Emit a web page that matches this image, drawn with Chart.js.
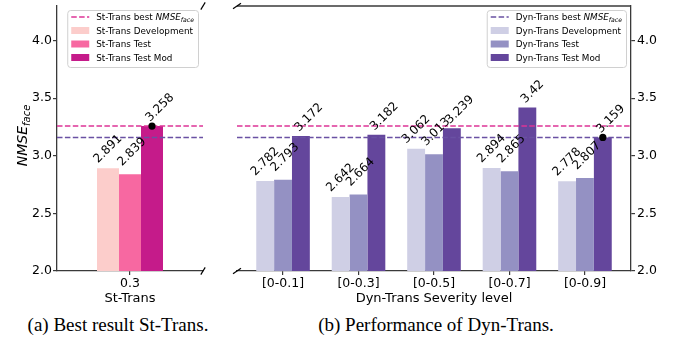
<!DOCTYPE html>
<html>
<head>
<meta charset="utf-8">
<script src="https://cdn.jsdelivr.net/npm/chart.js@4.4.1/dist/chart.umd.min.js"></script>
<style>
  body { margin: 0; background: #fff; width: 686px; height: 342px; position: relative; overflow: hidden; }
  canvas { position: absolute; top: 0; }
  #leftChart { left: 0; }
  #rightChart { left: 215px; }
  .cap { position: absolute; top: 315px; line-height: 20px; font-family: "Liberation Serif", "Times New Roman", serif;
         font-size: 19px; white-space: nowrap; transform: translateX(-50%); color: #000; }
</style>
</head>
<body>
<canvas id="leftChart" width="215" height="310"></canvas>
<canvas id="rightChart" width="471" height="310"></canvas>
<div class="cap" style="left:118px">(a) Best result St-Trans.</div>
<div class="cap" style="left:436px">(b) Performance of Dyn-Trans.</div>
<script>
// values
const stCategories = ["0.3"];
const stDev = [2.891];
const stTest = [2.839];
const stMod = [3.258];

const dynCategories = ["[0-0.1]", "[0-0.3]", "[0-0.5]", "[0-0.7]", "[0-0.9]"];
const dynDev = [2.782, 2.642, 3.062, 2.894, 2.778];
const dynTest = [2.793, 2.664, 3.013, 2.865, 2.807];
const dynMod = [3.172, 3.182, 3.239, 3.42, 3.159];

const stBest = 3.258;
const dynBest = 3.159;
const yTicks = [2.0, 2.5, 3.0, 3.5, 4.0];
const yMin = 2.0;
const yMax = 4.3;

// styling
const SPINE = "#3a3a3a";
const stColors = ["#fccdcb", "#f768a1", "#c51b8a"];
const dynColors = ["#cfcfe5", "#9491c3", "#64469c"];
const stLineColor = "#dd3497";
const dynLineColor = "#6a51a3";
const labelOffsets = [[-10, -5], [-8, -8], [-2, -4]];

Chart.defaults.font.family = '"DejaVu Sans", sans-serif';
Chart.defaults.color = "#000";

function fontOf(p) {
  return (p.it ? "italic " : "") + p.size + 'px "DejaVu Sans"';
}
function richWidth(ctx, parts) {
  let w = 0;
  parts.forEach((p) => { ctx.font = fontOf(p); w += ctx.measureText(p.t).width; });
  return w;
}
function drawRich(ctx, x, y, parts) {
  parts.forEach((p) => {
    ctx.font = fontOf(p);
    ctx.fillText(p.t, x, y + (p.dy || 0));
    x += ctx.measureText(p.t).width;
  });
}
function nmseParts(prefix, size, subSize, dy) {
  return [
    { t: prefix, size: size },
    { t: "NMSE", size: size, it: true },
    { t: "face", size: subSize, it: true, dy: dy },
  ];
}

const extras = {
  id: "extras",
  afterDatasetsDraw(chart, args, o) {
    const ctx = chart.ctx, a = chart.chartArea, ys = chart.scales.y;
    ctx.save();
    // best lines
    o.hlines.forEach((h) => {
      const py = ys.getPixelForValue(h.value);
      ctx.strokeStyle = h.color;
      ctx.lineWidth = 1.5;
      ctx.setLineDash([5.5, 2.4]);
      ctx.beginPath();
      ctx.moveTo(a.left, py);
      ctx.lineTo(a.right, py);
      ctx.stroke();
    });
    ctx.setLineDash([]);
    // value labels
    ctx.fillStyle = "#000";
    ctx.textAlign = "left";
    ctx.textBaseline = "alphabetic";
    ctx.font = '12px "DejaVu Sans"';
    chart.data.datasets.forEach((ds, i) => {
      const meta = chart.getDatasetMeta(i);
      const off = labelOffsets[i];
      meta.data.forEach((el, j) => {
        ctx.save();
        ctx.translate(el.x + off[0], el.y + off[1]);
        ctx.rotate(-Math.PI / 4);
        ctx.fillText(String(ds.values[j]), 0, 0);
        ctx.restore();
      });
    });
    // marker dot
    const el = chart.getDatasetMeta(o.dot.dataset).data[o.dot.index];
    ctx.fillStyle = "#000";
    ctx.beginPath();
    ctx.arc(el.x, el.y, 3.6, 0, Math.PI * 2);
    ctx.fill();
    ctx.restore();
  },
  afterDraw(chart, args, o) {
    const ctx = chart.ctx, a = chart.chartArea;
    ctx.save();
    ctx.strokeStyle = SPINE;
    ctx.lineWidth = 1.3;
    if (o.topSpine) {
      ctx.beginPath();
      ctx.moveTo(a.left, a.top);
      ctx.lineTo(a.right, a.top);
      ctx.stroke();
    }
    // axis break marks
    const bx = o.breakSide === "right" ? a.right : a.left;
    ctx.strokeStyle = "#000";
    ctx.lineWidth = 1.2;
    [a.top, a.bottom].forEach((by) => {
      ctx.beginPath();
      ctx.moveTo(bx - o.breakD[0], by + o.breakD[1]);
      ctx.lineTo(bx + o.breakD[0], by - o.breakD[1]);
      ctx.stroke();
    });
    // legend
    const items = [{ kind: "line", color: o.legendLine.color, parts: nmseParts(o.legendLine.prefix, 8.8, 6.2, 1.8) }];
    chart.data.datasets.forEach((ds) => {
      items.push({ kind: "patch", color: ds.backgroundColor, parts: [{ t: ds.label, size: 8.8 }] });
    });
    const tw = Math.max(...items.map((it) => richWidth(ctx, it.parts)));
    const w = 4 + 18 + 7 + tw + 4, h = 57;
    const x0 = a.right - 5 - w, y0 = a.top + 4;
    ctx.fillStyle = "rgba(255,255,255,0.8)";
    ctx.strokeStyle = "#d0d0d0";
    ctx.lineWidth = 1;
    ctx.beginPath();
    ctx.roundRect(x0 + 0.5, y0 + 0.5, w, h, 3);
    ctx.fill();
    ctx.stroke();
    items.forEach((it, k) => {
      const cy = y0 + 7 + k * 13.5;
      if (it.kind === "line") {
        ctx.strokeStyle = it.color;
        ctx.lineWidth = 1.5;
        ctx.setLineDash([5.5, 2.4]);
        ctx.beginPath();
        ctx.moveTo(x0 + 4, cy);
        ctx.lineTo(x0 + 22, cy);
        ctx.stroke();
        ctx.setLineDash([]);
      } else {
        ctx.fillStyle = it.color;
        ctx.fillRect(x0 + 4, cy - 3.5, 18, 7);
      }
      ctx.fillStyle = "#000";
      ctx.textBaseline = "alphabetic";
      drawRich(ctx, x0 + 29, cy + 3.2, it.parts);
    });
    // y axis title
    if (o.yTitle) {
      const parts = nmseParts("", 14, 10, 2.5);
      const tw2 = richWidth(ctx, parts);
      ctx.translate(27, (a.top + a.bottom) / 2 - 3);
      ctx.rotate(-Math.PI / 2);
      ctx.fillStyle = "#000";
      drawRich(ctx, -tw2 / 2, 0, parts);
    }
    ctx.restore();
  },
};

function yAxis(position) {
  return {
    type: "linear",
    position: position,
    min: yMin,
    max: yMax,
    afterBuildTicks: (s) => { s.ticks = yTicks.map((v) => ({ value: v })); },
    afterFit: (s) => { s.width = position === "left" ? 57 : 55; s.paddingTop = 0; s.paddingBottom = 0; },
    ticks: { font: { size: 12.5 }, color: "#000", padding: position === "left" ? 1 : 2, callback: (v) => Number(v).toFixed(1) },
    grid: { display: true, drawOnChartArea: false, drawTicks: true, tickLength: 4, color: SPINE, lineWidth: 1.2 },
    border: { display: true, color: SPINE, width: 1.3 },
  };
}

function xGrid() {
  return { display: true, drawOnChartArea: false, drawTicks: true, offset: false, tickLength: 4, color: SPINE, lineWidth: 1.2 };
}

const common = {
  responsive: false,
  animation: false,
  events: [],
  plugins: { legend: { display: false }, tooltip: { enabled: false } },
};

new Chart(document.getElementById("leftChart").getContext("2d"), {
  type: "bar",
  data: {
    labels: stCategories,
    datasets: [
      { label: "St-Trans Development", data: stDev, values: stDev, backgroundColor: stColors[0] },
      { label: "St-Trans Test", data: stTest, values: stTest, backgroundColor: stColors[1] },
      { label: "St-Trans Test Mod", data: stMod, values: stMod, backgroundColor: stColors[2] },
    ],
  },
  options: {
    ...common,
    layout: { padding: { top: 6, right: 12, left: 0, bottom: 0 } },
    datasets: { bar: { categoryPercentage: 0.452, barPercentage: 1.0 } },
    plugins: {
      ...common.plugins,
      extras: {
        hlines: [{ value: stBest, color: stLineColor }, { value: dynBest, color: dynLineColor }],
        dot: { dataset: 2, index: 0 },
        topSpine: false,
        breakSide: "right",
        breakD: [2.2, 3.6],
        legendLine: { color: stLineColor, prefix: "St-Trans best " },
        yTitle: true,
      },
    },
    scales: {
      x: {
        type: "category",
        offset: true,
        afterFit: (s) => { s.height = 39; s.paddingLeft = 0; s.paddingRight = 0; },
        ticks: { font: { size: 12.5 }, color: "#000", padding: 1, maxRotation: 0, autoSkip: false },
        grid: xGrid(),
        border: { display: true, color: SPINE, width: 1.3 },
        title: { display: true, text: "St-Trans", font: { size: 13 }, color: "#000", padding: { top: 0, bottom: 4 } },
      },
      y: yAxis("left"),
    },
  },
  plugins: [extras],
});

new Chart(document.getElementById("rightChart").getContext("2d"), {
  type: "bar",
  data: {
    datasets: [
      { label: "Dyn-Trans Development", data: dynDev.map((v, i) => ({ x: i, y: v })), values: dynDev, backgroundColor: dynColors[0] },
      { label: "Dyn-Trans Test", data: dynTest.map((v, i) => ({ x: i, y: v })), values: dynTest, backgroundColor: dynColors[1] },
      { label: "Dyn-Trans Test Mod", data: dynMod.map((v, i) => ({ x: i, y: v })), values: dynMod, backgroundColor: dynColors[2] },
    ],
  },
  options: {
    ...common,
    layout: { padding: { top: 6, right: 0, left: 22, bottom: 0 } },
    datasets: { bar: { categoryPercentage: 0.71, barPercentage: 1.0 } },
    plugins: {
      ...common.plugins,
      extras: {
        hlines: [{ value: stBest, color: stLineColor }, { value: dynBest, color: dynLineColor }],
        dot: { dataset: 2, index: 4 },
        topSpine: true,
        breakSide: "left",
        breakD: [4, 2.7],
        legendLine: { color: dynLineColor, prefix: "Dyn-Trans best " },
        yTitle: false,
      },
    },
    scales: {
      x: {
        type: "linear",
        min: -0.61,
        max: 4.61,
        offset: false,
        afterBuildTicks: (s) => { s.ticks = dynCategories.map((c, i) => ({ value: i })); },
        afterFit: (s) => { s.height = 39; s.paddingLeft = 0; s.paddingRight = 0; },
        ticks: { font: { size: 12.5 }, color: "#000", padding: 1, maxRotation: 0, autoSkip: false,
                 callback: (v) => dynCategories[v] },
        grid: xGrid(),
        border: { display: true, color: SPINE, width: 1.3 },
        title: { display: true, text: "Dyn-Trans Severity level", font: { size: 13 }, color: "#000", padding: { top: 0, bottom: 4 } },
      },
      y: yAxis("right"),
    },
  },
  plugins: [extras],
});
</script>
</body>
</html>
